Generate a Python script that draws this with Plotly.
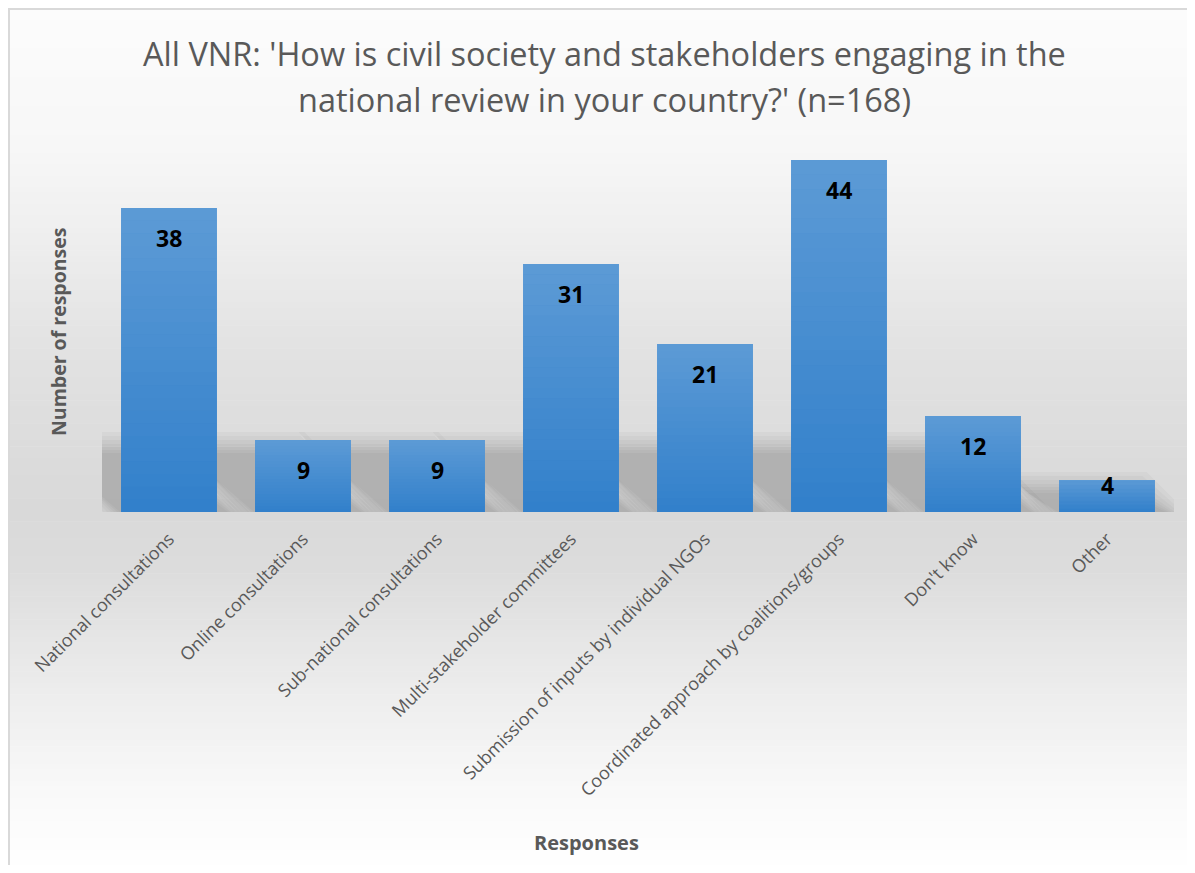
import plotly.graph_objects as go

# ---------------- data ----------------
categories = [
    "National consultations",
    "Online consultations",
    "Sub-national consultations",
    "Multi-stakeholder committees",
    "Submission of inputs by individual NGOs",
    "Coordinated approach by coalitions/groups",
    "Don't know",
    "Other",
]
responses = [38, 9, 9, 31, 21, 44, 12, 4]

title_line1 = "All VNR: 'How is civil society and stakeholders engaging in the"
title_line2 = "national review in your country?' (n=168)"
x_title = "Responses"
y_title = "Number of responses"

# ---------------- layout geometry ----------------
OFF = 8                     # page body margin: the figure starts at (8, 8) on screen
W, H = 1195 - OFF, 873 - 2 * OFF
BASE = 512                  # screen y of the bar baseline
ML, MT = 102 - OFF, 112 - OFF
MR = W - (1174 - OFF)
MB = H - (BASE - OFF)
PW, PH = W - ML - MR, H - MT - MB
Y_MAX = 50
BAR_W = 0.716
PX_X = PW / len(categories)   # px per category unit
PX_Y = PH / Y_MAX             # px per value unit


def sx(x):
    """screen x (px) -> paper x"""
    return (x - OFF - ML) / PW


def sy(y):
    """screen y (px) -> paper y"""
    return (H - MB - (y - OFF)) / PH


xs = list(range(len(categories)))
shapes = []

# background gradient (Excel style: light top, grey near baseline, white bottom)
stops = [(8, 252), (150, 247), (250, 237), (350, 226), (483, 218), (512, 217),
         (567, 220), (700, 238), (800, 250), (873, 255)]


def grey_at(y):
    for (y0, g0), (y1, g1) in zip(stops[:-1], stops[1:]):
        if y0 <= y <= y1:
            return g0 + (g1 - g0) * (y - y0) / (y1 - y0)
    return 255


N_STRIPS = 150
top_px, bot_px = 8, 873
step = (bot_px - top_px) / N_STRIPS
for k in range(N_STRIPS):
    y0 = top_px + k * step
    y1 = y0 + step + 0.6
    g = int(round(grey_at(y0 + step / 2)))
    shapes.append(dict(type="rect", xref="paper", yref="paper", layer="below",
                       x0=sx(7), x1=sx(1200), y0=sy(y1), y1=sy(y0),
                       fillcolor=f"rgb({g},{g},{g})", line=dict(width=0)))

# frame lines (top and left)
shapes.append(dict(type="line", xref="paper", yref="paper", layer="below",
                   x0=sx(8), x1=sx(1200), y0=sy(9), y1=sy(9),
                   line=dict(color="#d9d9d9", width=2)))
shapes.append(dict(type="line", xref="paper", yref="paper", layer="below",
                   x0=sx(9), x1=sx(9), y0=sy(8), y1=sy(880),
                   line=dict(color="#d9d9d9", width=2)))

# soft perspective shadows (towards upper-left), derived from bar values
for xi, v in zip(xs, responses):
    h_px = min(v * PX_Y, 72)
    d_px = h_px * 0.95
    for e in [22, 18, 14, 10, 7, 4, 1]:
        bx0 = xi - BAR_W / 2 - e / PX_X
        bx1 = xi + BAR_W / 2 + (10 + e) / PX_X
        tx0 = xi - BAR_W / 2 - (d_px + e) / PX_X
        tx1 = xi + BAR_W / 2 - (d_px - e) / PX_X
        ty = max(h_px + e - 14, 4) / PX_Y
        path = f"M {bx0},0 L {bx1},0 L {tx1},{ty} L {tx0},{ty} Z"
        shapes.append(dict(type="path", xref="x", yref="y", layer="below",
                           path=path, fillcolor="black", opacity=0.027,
                           line=dict(width=0)))

# vertical gradient on each bar (white overlay increasing to the top)
N_G = 24
for xi, v in zip(xs, responses):
    for k in range(N_G):
        shapes.append(dict(type="rect", xref="x", yref="y", layer="above",
                           x0=xi - BAR_W / 2, x1=xi + BAR_W / 2,
                           y0=v * k / N_G, y1=v * (k + 1) / N_G,
                           fillcolor="white", opacity=0.21 * (k + 0.5) / N_G,
                           line=dict(width=0)))

fig = go.Figure()
fig.add_trace(go.Bar(
    x=xs, y=responses, width=BAR_W,
    marker=dict(color="rgb(50,128,203)", line=dict(width=0)),
    hoverinfo="skip", showlegend=False, cliponaxis=False,
))

annotations = []
# value labels ("inside end")
for xi, v in zip(xs, responses):
    shift = min(30, v * PX_Y - 27)
    annotations.append(dict(x=xi, y=v, xref="x", yref="y", text=f"<b>{v}</b>",
                            showarrow=False, yanchor="middle", yshift=-shift,
                            font=dict(family="Open Sans", size=23, color="black")))

# title lines
annotations.append(dict(x=sx(604), y=sy(53), xref="paper", yref="paper",
                        text=title_line1, showarrow=False, xanchor="center", yanchor="middle",
                        font=dict(family="Open Sans", size=32.5, color="#595959")))
annotations.append(dict(x=sx(604), y=sy(100), xref="paper", yref="paper",
                        text=title_line2, showarrow=False, xanchor="center", yanchor="middle",
                        font=dict(family="Open Sans", size=32.5, color="#595959")))
# axis titles
annotations.append(dict(x=sx(586), y=sy(842), xref="paper", yref="paper",
                        text=f"<b>{x_title}</b>", showarrow=False, xanchor="center", yanchor="middle",
                        font=dict(family="Open Sans", size=20, color="#595959")))
annotations.append(dict(x=sx(58), y=sy(332), xref="paper", yref="paper",
                        text=f"<b>{y_title}</b>", showarrow=False, textangle=-90,
                        xanchor="center", yanchor="middle",
                        font=dict(family="Open Sans", size=19.5, color="#595959")))

fig.update_layout(
    width=W, height=H,
    margin=dict(l=ML, r=MR, t=MT, b=MB, pad=0),
    paper_bgcolor="white",
    plot_bgcolor="rgba(0,0,0,0)",
    shapes=shapes,
    annotations=annotations,
    showlegend=False,
    xaxis=dict(
        tickmode="array", tickvals=xs, ticktext=categories,
        tickangle=-45, range=[-0.5, len(categories) - 0.5],
        showgrid=False, zeroline=False, showline=False, ticks="",
        ticklabelstandoff=12,
        tickfont=dict(family="Open Sans", size=18, color="#595959"),
        fixedrange=True,
    ),
    yaxis=dict(range=[0, Y_MAX], visible=False, fixedrange=True),
)

fig.write_html("out.html")
